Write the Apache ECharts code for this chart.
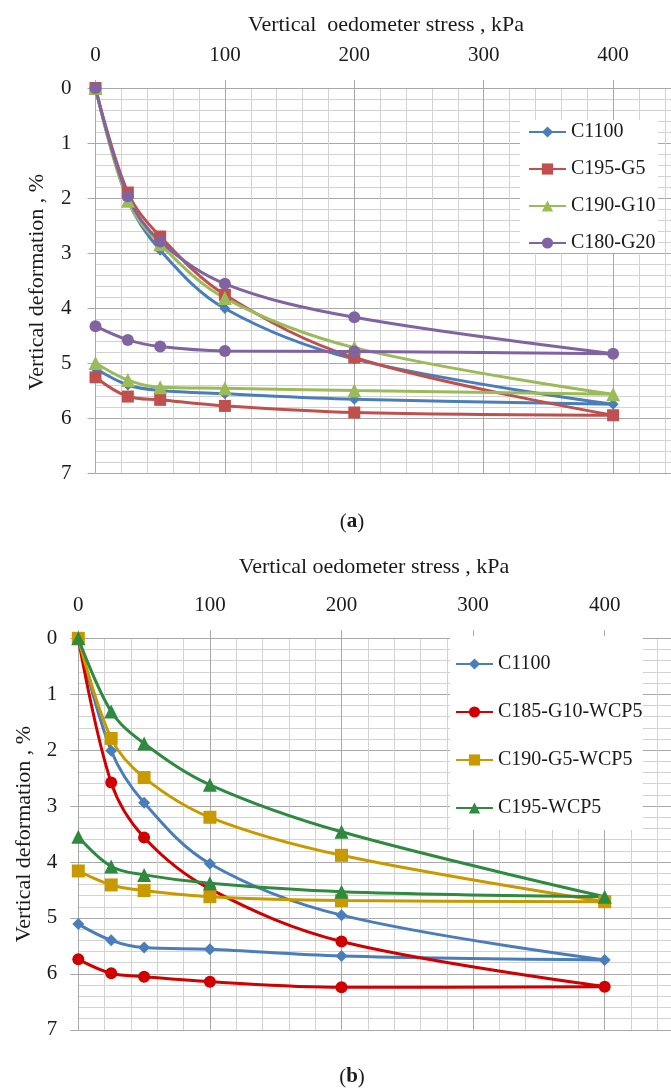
<!DOCTYPE html>
<html>
<head>
<meta charset="utf-8">
<script src="https://cdn.jsdelivr.net/npm/echarts@6/dist/echarts.min.js"></script>
<style>
html,body{margin:0;padding:0;background:#fff;}
#c{width:671px;height:1092px;}
</style>
</head>
<body>
<div id="c"></div>
<script>
// ---- data ----
const stress = [0, 25, 50, 100, 200, 400, 200, 100, 50, 25, 0];
const xTicks = [0, 100, 200, 300, 400];
const yTicks = [0, 1, 2, 3, 4, 5, 6, 7];

// (a)
const namesA = ['C1100', 'C195-G5', 'C190-G10', 'C180-G20'];
const a_C1100   = [0, 2.03, 2.95, 4.01, 4.93, 5.75, 5.66, 5.56, 5.50, 5.40, 5.10];
const a_C195G5  = [0, 1.90, 2.70, 3.76, 4.90, 5.95, 5.90, 5.78, 5.67, 5.61, 5.26];
const a_C190G10 = [0, 2.05, 2.84, 3.82, 4.72, 5.57, 5.50, 5.46, 5.44, 5.31, 5.00];
const a_C180G20 = [0, 1.97, 2.79, 3.56, 4.17, 4.83, 4.79, 4.78, 4.70, 4.58, 4.33];

// (b)
const namesB = ['C1100', 'C185-G10-WCP5', 'C190-G5-WCP5', 'C195-WCP5'];
const b_C1100      = [0, 2.01, 2.94, 4.03, 4.95, 5.75, 5.68, 5.56, 5.53, 5.40, 5.11];
const b_C185G10W5  = [0, 2.58, 3.56, 4.48, 5.42, 6.23, 6.24, 6.14, 6.05, 5.99, 5.74];
const b_C190G5W5   = [0, 1.79, 2.49, 3.20, 3.88, 4.71, 4.69, 4.62, 4.51, 4.41, 4.16];
const b_C195W5     = [0, 1.31, 1.88, 2.62, 3.46, 4.62, 4.53, 4.38, 4.23, 4.08, 3.55];

const xTitleA = 'Vertical  oedometer stress , kPa';
const xTitleB = 'Vertical oedometer stress , kPa';
const yTitle = 'Vertical deformation , %';

// ---- styling ----
const FONT = 'Liberation Serif';
const TXT = '#1a1a1a';
const MAJOR = '#a8a8a8';
const MINOR = '#d2d2d2';
const SMOOTH = 0.35;

function pairs(ys) { return stress.map((x, i) => [x, ys[i]]); }

function xAxisDef(gi) {
  return {
    gridIndex: gi, type: 'value', position: 'top', min: 0, max: 500, interval: 100,
    axisLine: {show: true, lineStyle: {color: MAJOR, width: 1}},
    axisTick: {show: true, inside: false, length: 8, lineStyle: {color: MAJOR}},
    axisLabel: {show: true, margin: 22, fontFamily: FONT, fontSize: 21, color: TXT},
    splitLine: {show: true, lineStyle: {color: MAJOR, width: 1}},
    minorTick: {show: false, splitNumber: 5},
    minorSplitLine: {show: true, lineStyle: {color: MINOR, width: 1}}
  };
}
function yAxisDef(gi, margin) {
  return {
    gridIndex: gi, type: 'value', inverse: true, min: 0, max: 7, interval: 1,
    axisLine: {show: true, lineStyle: {color: MAJOR, width: 1}},
    axisTick: {show: true, inside: false, length: 8, lineStyle: {color: MAJOR}},
    axisLabel: {show: true, margin: margin, fontFamily: FONT, fontSize: 21, color: TXT},
    splitLine: {show: true, lineStyle: {color: MAJOR, width: 1}},
    minorTick: {show: false, splitNumber: 5},
    minorSplitLine: {show: true, lineStyle: {color: MINOR, width: 1}}
  };
}
function ser(name, gi, ys, color, symbol, size) {
  return {
    name: name, type: 'line', xAxisIndex: gi, yAxisIndex: gi,
    data: pairs(ys), smooth: SMOOTH, symbol: symbol, symbolSize: size,
    lineStyle: {color: color, width: 3},
    itemStyle: {color: color},
    emphasis: {disabled: true}
  };
}

const BLUE = '#4a7ebb';
const option = {
  animation: false,
  backgroundColor: '#fff',
  grid: [
    {left: 95.5, top: 88, width: 647, height: 385, containLabel: false, outerBoundsMode: 'none'},
    {left: 78.3, top: 638.3, width: 658, height: 391.5, containLabel: false, outerBoundsMode: 'none'}
  ],
  xAxis: [xAxisDef(0), xAxisDef(1)],
  yAxis: [yAxisDef(0, 24), yAxisDef(1, 21)],
  legend: [
    {
      data: namesA, orient: 'vertical', left: 528, top: 122, padding: 0,
      itemWidth: 37, itemHeight: 14, itemGap: 17, z: 6,
      textStyle: {fontFamily: FONT, fontSize: 20, color: TXT}
    },
    {
      data: namesB, orient: 'vertical', left: 455, top: 654, padding: 0,
      itemWidth: 37, itemHeight: 14, itemGap: 28, z: 6,
      textStyle: {fontFamily: FONT, fontSize: 20, color: TXT}
    }
  ],
  graphic: [
    {type: 'rect', z: 5, shape: {x: 520, y: 120, width: 138, height: 133}, style: {fill: '#fff'}},
    {type: 'rect', z: 5, shape: {x: 450, y: 636, width: 193, height: 194}, style: {fill: '#fff'}},
    {type: 'text', z: 5, x: 386, y: 25, style: {text: xTitleA, font: '22px "Liberation Serif"', fill: TXT, textAlign: 'center', textVerticalAlign: 'middle'}},
    {type: 'text', z: 5, x: 374, y: 567, style: {text: xTitleB, font: '22px "Liberation Serif"', fill: TXT, textAlign: 'center', textVerticalAlign: 'middle'}},
    {type: 'text', z: 5, x: 37, y: 282, rotation: Math.PI / 2, style: {text: yTitle, font: '22px "Liberation Serif"', fill: TXT, textAlign: 'center', textVerticalAlign: 'middle'}},
    {type: 'text', z: 5, x: 24, y: 834, rotation: Math.PI / 2, style: {text: yTitle, font: '22px "Liberation Serif"', fill: TXT, textAlign: 'center', textVerticalAlign: 'middle'}},
    {type: 'text', z: 5, x: 352, y: 522, style: {text: '{n|(}{b|a}{n|)}', textAlign: 'center', textVerticalAlign: 'middle',
      rich: {n: {fontFamily: FONT, fontSize: 21, fill: TXT}, b: {fontFamily: FONT, fontSize: 21, fontWeight: 'bold', fill: TXT}}}},
    {type: 'text', z: 5, x: 352, y: 1077, style: {text: '{n|(}{b|b}{n|)}', textAlign: 'center', textVerticalAlign: 'middle',
      rich: {n: {fontFamily: FONT, fontSize: 21, fill: TXT}, b: {fontFamily: FONT, fontSize: 21, fontWeight: 'bold', fill: TXT}}}}
  ],
  series: [
    ser(namesA[0], 0, a_C1100, BLUE, 'diamond', 11),
    ser(namesA[1], 0, a_C195G5, '#c0504d', 'rect', 12),
    ser(namesA[2], 0, a_C190G10, '#9bbb59', 'triangle', 14),
    ser(namesA[3], 0, a_C180G20, '#8064a2', 'circle', 12),
    ser(namesB[0], 1, b_C1100, BLUE, 'diamond', 12),
    ser(namesB[1], 1, b_C185G10W5, '#d00000', 'circle', 12),
    ser(namesB[2], 1, b_C190G5W5, '#c99a00', 'rect', 13),
    ser(namesB[3], 1, b_C195W5, '#2e8a3e', 'triangle', 14)
  ]
};
const chart = echarts.init(document.getElementById('c'), null, {renderer: 'canvas'});
chart.setOption(option);
</script>
</body>
</html>
